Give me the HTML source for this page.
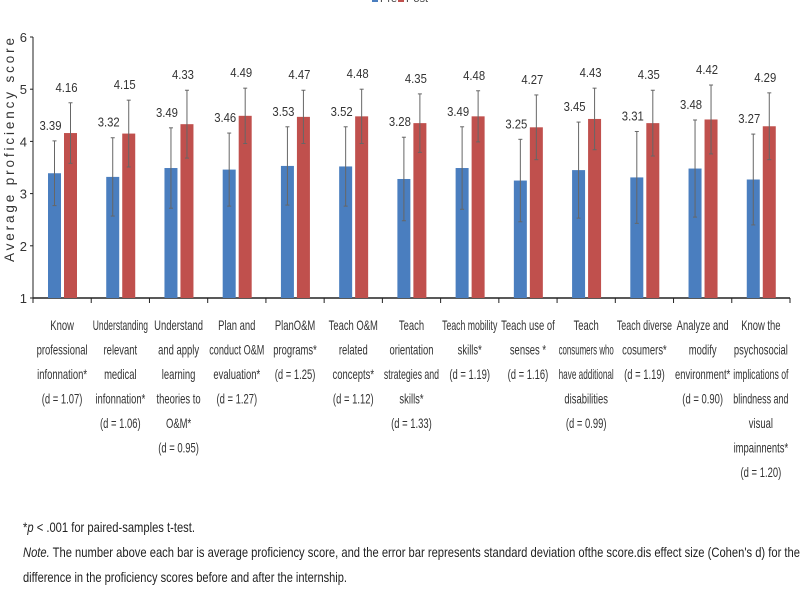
<!DOCTYPE html>
<html><head><meta charset="utf-8"><style>
html,body{margin:0;padding:0;background:#fff;}
svg{display:block;font-family:"Liberation Sans",sans-serif;}
</style></head><body>
<svg id="chart" width="800" height="600" viewBox="0 0 800 600">
<g id="legend">
  <rect x="372" y="-4" width="6" height="6" fill="#4a7ebf"/>
  <text x="380" y="2" font-size="11" fill="#444">Pre</text>
  <rect x="398" y="-4" width="6" height="6" fill="#c0504d"/>
  <text x="406" y="2" font-size="11" fill="#444">Post</text>
</g>
<text transform="translate(14,150) rotate(-90)" text-anchor="middle" font-size="13.5" fill="#333" textLength="224" lengthAdjust="spacing">Average proficiency score</text>
<g id="axes"></g>
<g id="bars"></g>
<g id="labels"></g>
<g id="foot" font-size="14" fill="#222">
  <text x="23" y="532" textLength="172" lengthAdjust="spacingAndGlyphs">*<tspan font-style="italic">p</tspan> &lt; .001  for paired-samples t-test.</text>
  <text x="23" y="557" textLength="777" lengthAdjust="spacingAndGlyphs"><tspan font-style="italic">Note.</tspan>  The number above each bar is average proficiency score, and the error bar represents standard deviation ofthe score.dis effect size (Cohen's d) for the</text>
  <text x="23" y="582" textLength="324" lengthAdjust="spacingAndGlyphs">difference in the proficiency scores before and after the internship.</text>
</g>
</svg>
<script>
const categories = [
 ["Know","professional","infonnation*","(d = 1.07)"],
 ["Understanding","relevant","medical","infonnation*","(d = 1.06)"],
 ["Understand","and apply","learning","theories to","O&M*","(d = 0.95)"],
 ["Plan and","conduct O&M","evaluation*","(d = 1.27)"],
 ["PlanO&M","programs*","(d = 1.25)"],
 ["Teach O&M","related","concepts*","(d = 1.12)"],
 ["Teach","orientation","strategies and","skills*","(d = 1.33)"],
 ["Teach mobility","skills*","(d = 1.19)"],
 ["Teach use of","senses *","(d = 1.16)"],
 ["Teach","consumers who","have additional","disabilities","(d = 0.99)"],
 ["Teach diverse","cosumers*","(d = 1.19)"],
 ["Analyze and","modify","environment*","(d = 0.90)"],
 ["Know the","psychosocial","implications of","blindness and","visual","impainnents*","(d = 1.20)"]
];
const preValues = [3.39,3.32,3.49,3.46,3.53,3.52,3.28,3.49,3.25,3.45,3.31,3.48,3.27];
const postValues = [4.16,4.15,4.33,4.49,4.47,4.48,4.35,4.48,4.27,4.43,4.35,4.42,4.29];
const preSD = [0.62,0.75,0.77,0.70,0.75,0.76,0.80,0.79,0.79,0.92,0.88,0.93,0.87];
const postSD = [0.58,0.64,0.65,0.53,0.51,0.52,0.56,0.49,0.62,0.59,0.63,0.66,0.64];
const yTicks = [1,2,3,4,5,6];

const NS="http://www.w3.org/2000/svg";
const X0=33, X1=790, Y0=298, Ytop=37, YMIN=1, YMAX=6;
const gw=(X1-X0)/categories.length;
function yScale(v){return Y0-(v-YMIN)/(YMAX-YMIN)*(Y0-Ytop);}
function groupX(i){return X0+i*gw;}
function mk(tag,attrs,parent){const e=document.createElementNS(NS,tag);for(const k in attrs)e.setAttribute(k,attrs[k]);parent.appendChild(e);return e;}
const axes=document.getElementById('axes'),bars=document.getElementById('bars'),labels=document.getElementById('labels');

let a=mk('line',{x1:X0,y1:Ytop,x2:X0,y2:Y0,stroke:'#222','stroke-width':1},axes);


a=mk('line',{x1:X0,y1:Y0,x2:X1,y2:Y0,stroke:'#222','stroke-width':1.5},axes);


yTicks.forEach(t=>{
  const y=yScale(t);
  mk('line',{x1:X0-3,y1:y,x2:X0,y2:y,stroke:'#222'},axes);
  const tx=mk('text',{x:X0-6,y:y+5,'text-anchor':'end','font-size':13,fill:'#333'},axes);
  tx.textContent=t;
  
  
});
for(let i=0;i<=categories.length;i++){
  const x=groupX(i);
  mk('line',{x1:x,y1:Y0,x2:x,y2:Y0+5,stroke:'#222'},axes);
}
function bar(i,v,sd,off,color,name){
  const x=groupX(i)+off, w=13;
  const r=mk('rect',{x:x,y:yScale(v),width:w,height:Y0-yScale(v),fill:color},bars);
  
  
  const cx=x+w/2, yt=yScale(v+sd), yb=yScale(v-sd);
  const e=mk('g',{stroke:'#666','stroke-width':1},bars);
  
  
  mk('line',{x1:cx,y1:yt,x2:cx,y2:yb},e);
  mk('line',{x1:cx-2,y1:yt,x2:cx+2,y2:yt},e);
  mk('line',{x1:cx-2,y1:yb,x2:cx+2,y2:yb},e);
  const t=mk('text',{x:cx-4,y:yt-11,'text-anchor':'middle','font-size':12.5,fill:'#333',textLength:22,lengthAdjust:'spacingAndGlyphs'},labels);
  t.textContent=v.toFixed(2);
  
  
}
categories.forEach((c,i)=>{
  bar(i,preValues[i],preSD[i],15,'#4a7ebf','bar-pre-'+(i+1));
  bar(i,postValues[i],postSD[i],31,'#c0504d','bar-post-'+(i+1));
  const cx=groupX(i)+gw/2;
  const g=mk('g',{},labels);
  
  
  c.forEach((line,j)=>{
    const t=mk('text',{x:cx,y:330+j*24.5,'text-anchor':'middle','font-size':13.5,fill:'#333'},g);
    t.textContent=line;
    const w=t.getComputedTextLength();
    let s=0.7;
    if(w*s>gw-3) s=(gw-3)/w;
    t.setAttribute('transform',`translate(${cx*(1-s)},0) scale(${s},1)`);
  });
});
</script>
</body></html>
